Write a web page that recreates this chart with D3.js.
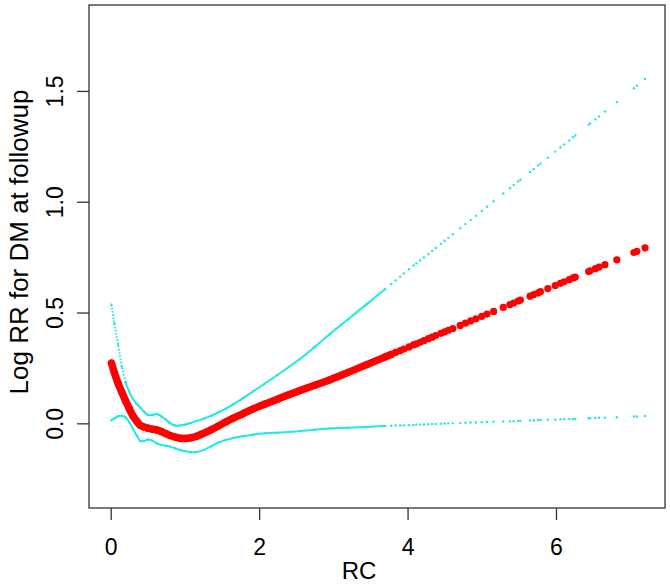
<!DOCTYPE html>
<html>
<head>
<meta charset="utf-8">
<script src="https://cdn.jsdelivr.net/npm/d3@7"></script>
<style>
  html, body { margin: 0; padding: 0; background: #fff; }
  svg { display: block; font-family: "Liberation Sans", Arial, sans-serif; }
</style>
</head>
<body>
<svg id="chart" width="670" height="586"></svg>
<script>
// RC values at which the spline estimates are shown
const rc = [0.01,0.05,0.10,0.15,0.20,0.25,0.30,0.35,0.40,0.45,0.50,0.56,0.62,0.68,0.74,0.80,0.87,0.94,1.00,1.08,1.16,1.25,1.35,1.45,1.55,1.65,1.78,1.92,2.08,2.24,2.40,2.55,2.75,2.95,3.20,3.45,3.70,3.78,3.84,3.90,3.95,4.02,4.08,4.12,4.17,4.22,4.28,4.33,4.38,4.45,4.50,4.55,4.61,4.71,4.78,4.85,4.92,5.00,5.07,5.16,5.29,5.38,5.43,5.49,5.52,5.65,5.70,5.76,5.79,5.89,5.99,6.06,6.11,6.18,6.23,6.26,6.44,6.46,6.53,6.58,6.66,6.82,7.05,7.09,7.20];
// Log RR estimate
const fit = [0.272,0.228,0.180,0.140,0.102,0.067,0.033,0.010,-0.009,-0.017,-0.022,-0.026,-0.030,-0.037,-0.046,-0.055,-0.062,-0.067,-0.068,-0.065,-0.058,-0.045,-0.029,-0.012,0.006,0.023,0.043,0.065,0.087,0.108,0.129,0.148,0.172,0.196,0.230,0.265,0.300,0.311,0.320,0.328,0.335,0.345,0.354,0.359,0.366,0.373,0.382,0.389,0.396,0.406,0.413,0.420,0.428,0.442,0.452,0.462,0.472,0.483,0.493,0.505,0.523,0.536,0.543,0.552,0.556,0.574,0.581,0.589,0.594,0.608,0.622,0.632,0.639,0.649,0.656,0.660,0.685,0.688,0.698,0.705,0.716,0.738,0.771,0.776,0.792];
// upper 95% bound
const upper = [0.535,0.450,0.355,0.255,0.185,0.142,0.110,0.088,0.070,0.052,0.038,0.038,0.042,0.032,0.018,0.000,-0.010,-0.009,-0.006,0.002,0.011,0.021,0.034,0.049,0.066,0.086,0.113,0.144,0.180,0.217,0.254,0.290,0.345,0.402,0.470,0.538,0.606,0.628,0.645,0.662,0.676,0.695,0.712,0.722,0.735,0.748,0.764,0.778,0.791,0.810,0.824,0.837,0.853,0.880,0.899,0.918,0.937,0.958,0.977,1.002,1.037,1.061,1.075,1.091,1.099,1.134,1.148,1.164,1.172,1.199,1.226,1.245,1.258,1.277,1.291,1.299,1.348,1.353,1.372,1.385,1.407,1.450,1.512,1.523,1.554];
// lower 95% bound
const lower = [0.014,0.022,0.032,0.034,0.027,0.005,-0.025,-0.055,-0.080,-0.080,-0.073,-0.078,-0.090,-0.097,-0.101,-0.105,-0.113,-0.121,-0.126,-0.130,-0.129,-0.121,-0.104,-0.087,-0.075,-0.066,-0.058,-0.051,-0.045,-0.042,-0.039,-0.035,-0.029,-0.023,-0.020,-0.016,-0.012,-0.011,-0.010,-0.009,-0.009,-0.008,-0.007,-0.006,-0.006,-0.005,-0.004,-0.003,-0.003,-0.002,-0.001,0.000,0.001,0.002,0.003,0.004,0.004,0.005,0.006,0.007,0.008,0.009,0.010,0.011,0.011,0.013,0.014,0.015,0.015,0.016,0.017,0.018,0.019,0.020,0.020,0.021,0.023,0.023,0.024,0.025,0.026,0.028,0.031,0.031,0.033];

const xTicks = [0, 2, 4, 6];
const yTicks = [0.0, 0.5, 1.0, 1.5];
const xTitle = "RC";
const yTitle = "Log RR for DM at followup";

const box = {left: 89, right: 665, top: 5, bottom: 508};
const x = d3.scaleLinear().domain([-0.2925, 7.469]).range([box.left, box.right]);
const y = d3.scaleLinear().domain([-0.382, 1.8877]).range([box.bottom, box.top]);

const svg = d3.select("#chart");
const pts = rc.map((r, i) => ({x: r, fit: fit[i], lo: lower[i], up: upper[i]}));

const RED = "#ff0000", CYAN = "#1fe8e8";

// dense part drawn as continuous strokes
const lineOf = key => d3.line().x(d => x(d.x)).y(d => y(d[key])).curve(d3.curveCatmullRom);

svg.append("path").datum(pts.filter(d => d.x <= 3.80))
  .attr("d", lineOf("fit")).attr("fill", "none").attr("stroke", RED)
  .attr("stroke-width", 7.5).attr("stroke-linecap", "round").attr("stroke-linejoin", "round");

svg.append("path").datum(pts.filter(d => d.x >= 0.20 && d.x <= 3.70))
  .attr("d", lineOf("up")).attr("fill", "none").attr("stroke", CYAN).attr("stroke-width", 2);
svg.append("path").datum(pts.filter(d => d.x <= 0.20))
  .attr("d", lineOf("up")).attr("fill", "none").attr("stroke", CYAN)
  .attr("stroke-width", 2).attr("stroke-dasharray", "1.6,1.6");
svg.append("path").datum(pts.filter(d => d.x <= 3.70))
  .attr("d", lineOf("lo")).attr("fill", "none").attr("stroke", CYAN).attr("stroke-width", 2);

// points
svg.append("g").selectAll("circle").data(pts).join("circle")
  .attr("cx", d => x(d.x)).attr("cy", d => y(d.up)).attr("r", 1.2).attr("fill", CYAN);
svg.append("g").selectAll("circle").data(pts).join("circle")
  .attr("cx", d => x(d.x)).attr("cy", d => y(d.lo)).attr("r", 1.2).attr("fill", CYAN);
svg.append("g").selectAll("circle").data(pts).join("circle")
  .attr("cx", d => x(d.x)).attr("cy", d => y(d.fit)).attr("r", 3.6).attr("fill", RED);

// box
svg.append("rect").attr("x", box.left).attr("y", box.top)
  .attr("width", box.right - box.left).attr("height", box.bottom - box.top)
  .attr("fill", "none").attr("stroke", "#333").attr("stroke-width", 1.3);

// x axis
const xa = svg.append("g").attr("transform", `translate(0,${box.bottom})`)
  .call(d3.axisBottom(x).tickValues(xTicks).tickSize(12).tickPadding(0).tickFormat(d3.format("d")));
xa.select(".domain").remove();
xa.selectAll(".tick line").attr("stroke", "#333").attr("stroke-width", 1.3);
xa.selectAll(".tick text").attr("font-size", 23).attr("fill", "#000")
  .attr("font-family", "Liberation Sans, Arial, sans-serif").attr("y", 47).attr("dy", null);

// y axis
const ya = svg.append("g").attr("transform", `translate(${box.left},0)`)
  .call(d3.axisLeft(y).tickValues(yTicks).tickSize(12).tickFormat(d3.format(".1f")));
ya.select(".domain").remove();
ya.selectAll(".tick line").attr("stroke", "#333").attr("stroke-width", 1.3);
ya.selectAll(".tick text").attr("font-size", 23).attr("fill", "#000")
  .attr("font-family", "Liberation Sans, Arial, sans-serif")
  .attr("x", null).attr("dy", null)
  .attr("text-anchor", "middle")
  .attr("transform", `translate(-26,0) rotate(-90)`);

// titles
svg.append("text").attr("x", 359).attr("y", 579).attr("text-anchor", "middle")
  .attr("font-size", 24).attr("fill", "#000").text(xTitle);
svg.append("text").attr("transform", "translate(28,242) rotate(-90)")
  .attr("text-anchor", "middle").attr("font-size", 26).attr("fill", "#000").text(yTitle);
</script>
</body>
</html>
